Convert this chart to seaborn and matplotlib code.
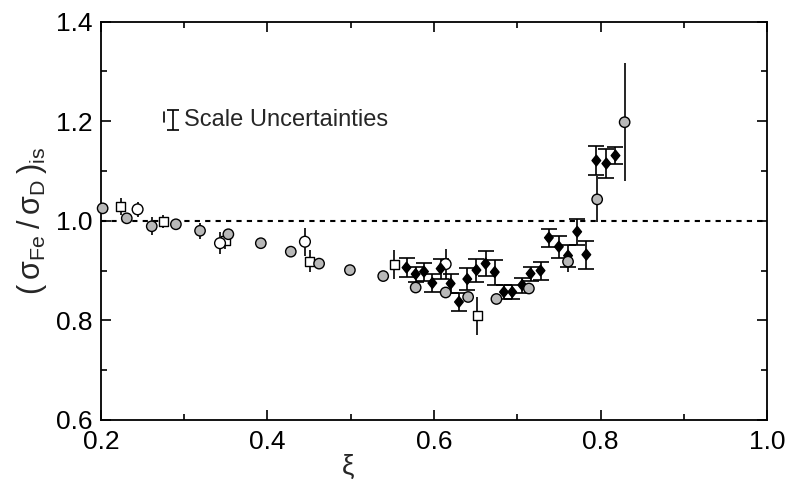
import numpy as np
import pandas as pd
import matplotlib
matplotlib.use("Agg")
import matplotlib.pyplot as plt
from matplotlib.ticker import MultipleLocator, FormatStrFormatter
from matplotlib.path import Path
import seaborn as sns

# ---- data ----
gray_x = [0.202, 0.231, 0.261, 0.290, 0.319, 0.353, 0.392, 0.428, 0.462, 0.499,
          0.539, 0.578, 0.614, 0.641, 0.675, 0.714, 0.761, 0.796, 0.829]
gray_y = [1.025, 1.005, 0.989, 0.993, 0.980, 0.973, 0.955, 0.938, 0.914, 0.901,
          0.889, 0.866, 0.856, 0.847, 0.843, 0.864, 0.918, 1.043, 1.198]
gray_err = [0.008, 0.010, 0.018, 0.006, 0.016, 0.008, 0.006, 0.006, 0.006, 0.006,
            0.006, 0.008, 0.008, 0.008, 0.008, 0.008, 0.020, 0.046, 0.118]

open_x = [0.244, 0.343, 0.445, 0.614]
open_y = [1.023, 0.955, 0.958, 0.913]
open_err = [0.015, 0.022, 0.028, 0.030]

sq_x = [0.224, 0.275, 0.349, 0.451, 0.552, 0.652]
sq_y = [1.028, 0.999, 0.961, 0.919, 0.913, 0.809]
sq_err = [0.017, 0.013, 0.018, 0.022, 0.029, 0.038]

dia_x = [0.567, 0.578, 0.588, 0.598, 0.608, 0.620, 0.630, 0.640, 0.651, 0.662,
         0.673, 0.684, 0.694, 0.706, 0.716, 0.728, 0.738, 0.750, 0.761, 0.772,
         0.783, 0.795, 0.807, 0.818]
dia_y = [0.906, 0.893, 0.898, 0.875, 0.904, 0.874, 0.837, 0.883, 0.901, 0.914,
         0.897, 0.857, 0.857, 0.871, 0.894, 0.900, 0.966, 0.948, 0.930, 0.978,
         0.932, 1.121, 1.115, 1.131]
dia_err = [0.019, 0.015, 0.018, 0.018, 0.020, 0.020, 0.018, 0.022, 0.023, 0.025,
           0.025, 0.015, 0.015, 0.015, 0.014, 0.018, 0.018, 0.022, 0.022, 0.026,
           0.028, 0.030, 0.030, 0.017]

# scale-uncertainty key
scale_x = [0.2757, 0.2860]
scale_lo = [1.199, 1.183]
scale_hi = [1.219, 1.222]
scale_text = "Scale Uncertainties"

x_ticks = [0.2, 0.4, 0.6, 0.8, 1.0]
y_ticks = [0.6, 0.8, 1.0, 1.2, 1.4]

# ---- styling ----
sns.set_style("ticks")
plt.rcParams['font.family'] = ['Liberation Sans', 'DejaVu Sans']
plt.rcParams['mathtext.fontset'] = 'custom'
plt.rcParams['mathtext.rm'] = 'Liberation Sans'
plt.rcParams['mathtext.it'] = 'Liberation Sans:italic'
plt.rcParams['mathtext.bf'] = 'Liberation Sans:bold'

frames = [
    pd.DataFrame({'x': sq_x, 'y': sq_y, 'err': sq_err, 'series': 'square'}),
    pd.DataFrame({'x': open_x, 'y': open_y, 'err': open_err, 'series': 'open'}),
    pd.DataFrame({'x': dia_x, 'y': dia_y, 'err': dia_err, 'series': 'diamond'}),
    pd.DataFrame({'x': gray_x, 'y': gray_y, 'err': gray_err, 'series': 'gray'}),
]
df = pd.concat(frames, ignore_index=True)

fig = plt.figure(figsize=(7.87, 4.90), dpi=100)
ax = fig.add_axes([0.1283, 0.1429, 0.8463, 0.8130])

ax.axhline(1.0, color='black', lw=1.5, ls=(0, (2.5, 2.5)), zorder=1)

# error bars
for name, sub in df.groupby('series'):
    cap = 5.5 if name == 'diamond' else 0
    ax.errorbar(sub['x'], sub['y'], yerr=sub['err'], fmt='none', ecolor='black',
                elinewidth=1.2, capsize=cap, capthick=1.2, zorder=2, clip_on=False)

tall_diamond = Path([(0, 1), (0.8, 0), (0, -1), (-0.8, 0), (0, 1)],
                    [Path.MOVETO, Path.LINETO, Path.LINETO, Path.LINETO, Path.CLOSEPOLY])

sns.scatterplot(data=df, x='x', y='y', hue='series', style='series', size='series',
                hue_order=['square', 'open', 'diamond', 'gray'],
                palette={'square': 'white', 'open': 'white', 'diamond': 'black', 'gray': '#b8b8b8'},
                markers={'square': 's', 'open': 'o', 'diamond': tall_diamond, 'gray': 'o'},
                sizes={'square': 42, 'open': 60, 'diamond': 60, 'gray': 56},
                edgecolor='black', linewidth=1.0, legend=False, ax=ax, zorder=3, clip_on=False)

# scale uncertainty key
ax.plot([scale_x[0], scale_x[0]], [scale_lo[0], scale_hi[0]], color='black', lw=1.2)
ax.errorbar([scale_x[1]], [(scale_lo[1] + scale_hi[1]) / 2],
            yerr=[(scale_hi[1] - scale_lo[1]) / 2], fmt='none', ecolor='black',
            elinewidth=1.2, capsize=4.5, capthick=1.2)
ax.text(0.300, 1.203, scale_text, fontsize=17, va='center', ha='left')

ax.set_xlim(0.2, 1.0)
ax.set_ylim(0.6, 1.4)
ax.set_xticks(x_ticks)
ax.set_yticks(y_ticks)
ax.xaxis.set_minor_locator(MultipleLocator(0.1))
ax.yaxis.set_minor_locator(MultipleLocator(0.1))
ax.xaxis.set_major_formatter(FormatStrFormatter('%.1f'))
ax.yaxis.set_major_formatter(FormatStrFormatter('%.1f'))
ax.tick_params(which='both', direction='in', top=True, right=True, width=1.2, colors='black')
ax.tick_params(which='major', length=7.5, labelsize=19)
ax.tick_params(axis='x', which='major', pad=7)
ax.tick_params(axis='y', which='major', pad=6)
ax.tick_params(which='minor', length=4)
for s in ax.spines.values():
    s.set_linewidth(1.3)
    s.set_color('black')

ax.set_xlabel('ξ', fontsize=20)
ax.xaxis.set_label_coords(0.371, -0.085)
ax.set_ylabel(r'$\mathrm{(\:σ_{Fe}\:/\:σ_{D}\:)_{is}}$', fontsize=22)
ax.yaxis.set_label_coords(-0.078, 0.5)

fig.savefig('out.png', dpi=100)
